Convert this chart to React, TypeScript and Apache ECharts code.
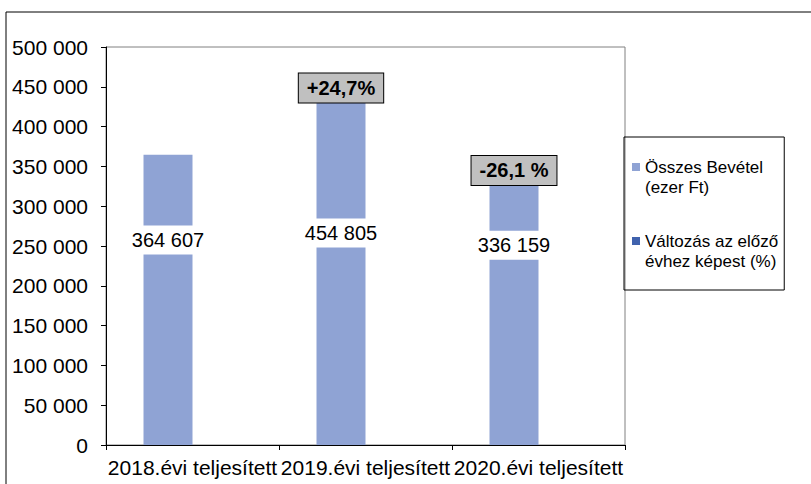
import React, { useEffect, useRef } from "react";
import * as echarts from "echarts";

const categories = ["2018.évi teljesített", "2019.évi teljesített", "2020.évi teljesített"];
const revenue = [364607, 454805, 336159];
const changeValues: (number | null)[] = [null, 24.7, -26.1];
const changeLabels = ["", "+24,7%", "-26,1 %"];
const seriesNames = ["Összes Bevétel (ezer Ft)", "Változás az előző évhez képest (%)"];
const legendLines: Record<string, string> = {
  "Összes Bevétel (ezer Ft)": "\nÖsszes Bevétel\n(ezer Ft)",
  "Változás az előző évhez képest (%)": "\nVáltozás az előző\névhez képest (%)",
};
const yMin = 0;
const yMax = 500000;
const yInterval = 50000;

// label placement tweaks (styling only)
const valueLabelOffsets = [-60, -31, -66];
const changeLabelOffsets = [0, 5, -7];

const FONT = "'Liberation Sans', Arial, sans-serif";

function fmt(v: number): string {
  return String(v).replace(/\B(?=(\d{3})+(?!\d))/g, " ");
}

export default function App() {
  const ref = useRef<HTMLDivElement>(null);
  useEffect(() => {
    document.body.style.margin = "0";
    const chart = echarts.init(ref.current!, null, { renderer: "svg" });
    chart.setOption({
      animation: false,
      textStyle: { fontFamily: FONT, color: "#000" },
      graphic: [
        {
          type: "rect",
          shape: { x: 6, y: 12, width: 900, height: 600 },
          style: { fill: "none", stroke: "#000", lineWidth: 1 },
          silent: true,
        },
      ],
      grid: {
        left: 106,
        top: 47,
        width: 519,
        height: 398,
        show: true,
        borderColor: "#808080",
        borderWidth: 1,
        backgroundColor: "transparent",
      },
      legend: {
        data: seriesNames,
        orient: "vertical",
        left: 624,
        top: 137,
        itemWidth: 8,
        itemHeight: 8,
        itemGap: 14,
        padding: [0, 6, 19, 8],
        borderColor: "#000",
        borderWidth: 1,
        icon: "rect",
        selectedMode: false,
        formatter: (name: string) => legendLines[name] || name,
        textStyle: { fontSize: 17, lineHeight: 20, color: "#000", fontFamily: FONT },
      },
      xAxis: {
        type: "category",
        data: categories,
        axisLine: { lineStyle: { color: "#000" } },
        axisTick: { show: true, length: 5, lineStyle: { color: "#000" } },
        axisLabel: { fontSize: 21, color: "#000", margin: 12, interval: 0, fontFamily: FONT },
        splitLine: { show: false },
      },
      yAxis: {
        type: "value",
        min: yMin,
        max: yMax,
        interval: yInterval,
        axisLine: { show: true, lineStyle: { color: "#000" } },
        axisTick: { show: true, length: 5, lineStyle: { color: "#000" } },
        axisLabel: {
          fontSize: 21,
          color: "#000",
          margin: 18,
          fontFamily: FONT,
          formatter: (v: number) => fmt(v),
        },
        splitLine: { show: false },
      },
      series: [
        {
          name: seriesNames[0],
          type: "bar",
          stack: "rev",
          barWidth: 49,
          barGap: "0%",
          itemStyle: { color: "#8FA3D4" },
          data: revenue.map((v, i) => ({
            value: v,
            label: {
              show: true,
              position: "inside",
              offset: [0, valueLabelOffsets[i]],
              formatter: () => fmt(v),
              fontSize: 20,
              color: "#000",
              backgroundColor: "#fff",
              padding: [5, 3, 4, 3],
              fontFamily: FONT,
            },
          })),
          z: 2,
        },
        {
          name: "pctLabels",
          type: "bar",
          stack: "rev",
          barWidth: 49,
          itemStyle: { color: "transparent" },
          data: changeValues.map((v, i) =>
            v == null
              ? null
              : {
                  value: 0,
                  label: {
                    show: true,
                    position: "inside",
                    offset: [0, changeLabelOffsets[i]],
                    formatter: () => changeLabels[i],
                    fontSize: 20,
                    fontWeight: "bold",
                    color: "#000",
                    backgroundColor: "#C0C0C0",
                    borderColor: "#000",
                    borderWidth: 1,
                    padding: [5, 8, 4, 8],
                    fontFamily: FONT,
                  },
                }
          ),
          z: 3,
        },
        {
          name: seriesNames[1],
          type: "bar",
          barWidth: 49,
          barGap: "0%",
          itemStyle: { color: "#4062AD" },
          data: changeValues,
        },
      ],
    });
    return () => chart.dispose();
  }, []);
  return (
    <div
      ref={ref}
      style={{ position: "absolute", left: 0, top: 0, width: 811, height: 484 }}
    />
  );
}
